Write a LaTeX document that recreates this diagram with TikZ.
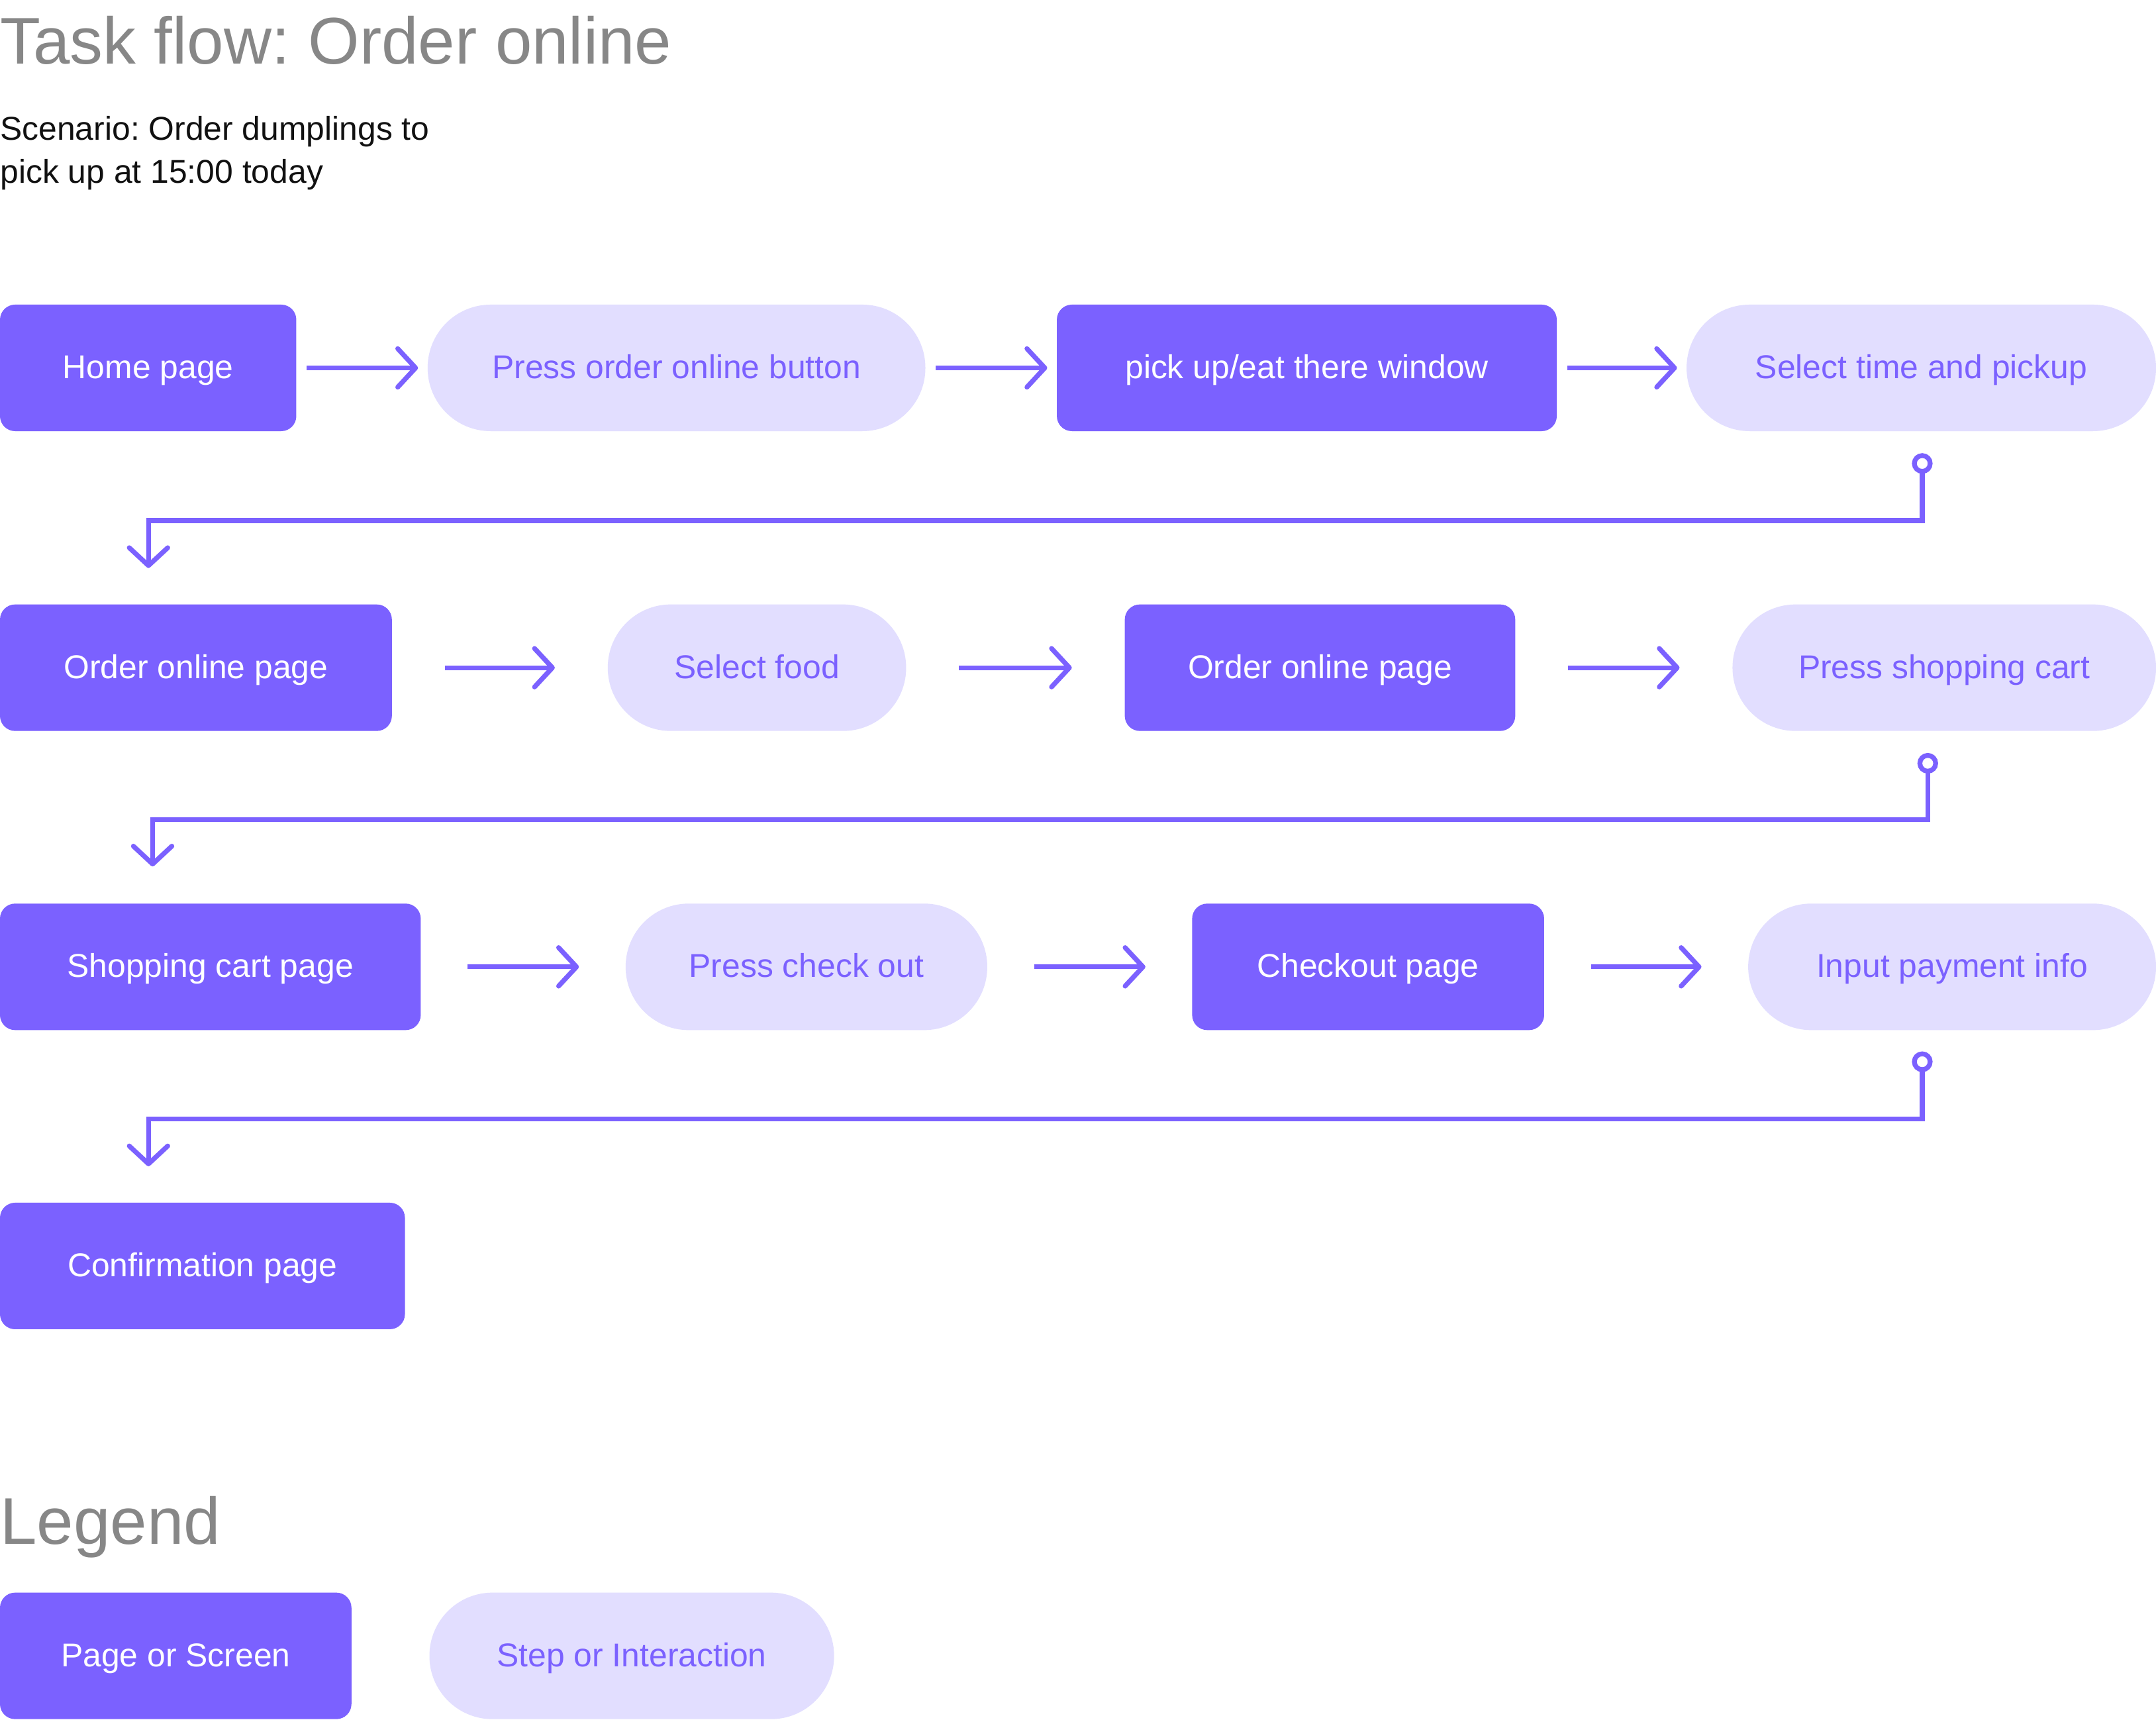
\documentclass[tikz,border=0pt]{standalone}
\usepackage{fontspec}
\setmainfont{Liberation Sans}
\usetikzlibrary{arrows.meta,calc}
\definecolor{pagefill}{HTML}{7B61FF}
\definecolor{stepfill}{HTML}{E2DEFF}
\definecolor{titlegray}{HTML}{878787}
\definecolor{inkblack}{HTML}{111111}
\frenchspacing
\begin{document}
\frenchspacing
\begin{tikzpicture}[x=1pt,y=-1pt,
  boxfont/.style={font=\fontsize{24}{29}\selectfont},
  pagebox/.style={fill=pagefill, text=white, rounded corners=11pt, minimum height=92pt,
    inner sep=0pt, outer sep=0pt, anchor=north west, boxfont, text height=20.4pt, text depth=5pt},
  stepbox/.style={fill=stepfill, text=pagefill, rounded corners=45.9pt, minimum height=92pt,
    inner sep=0pt, outer sep=0pt, anchor=north west, boxfont, text height=20.4pt, text depth=5pt},
  flow/.style={draw=pagefill, line width=3.5pt,
    -{Straight Barb[length=13pt,width=28pt,round]}},
  ring/.style={circle, draw=pagefill, line width=3.5pt, minimum size=11.5pt, inner sep=0pt, outer sep=0pt},
  bigtitle/.style={anchor=base west, inner sep=0pt, text=titlegray, font=\fontsize{48}{58}\selectfont},
  plaintext/.style={anchor=base west, inner sep=0pt, text=inkblack, boxfont},
  row1/.style={shorten <=7.5pt, shorten >=7pt},
  row2/.style={shorten <=38.5pt, shorten >=38.5pt},
  row3/.style={shorten <=34pt, shorten >=34pt}
]
\fill[white] (0,0) rectangle (1568,1250.16);
\useasboundingbox (0,0) rectangle (1568,1250.16);

% titles
\node[bigtitle] (title) at (0,46.5) {Task flow: Order online};
\node[plaintext] (scen1) at (0,102) {Scenario: Order dumplings to};
\node[plaintext] (scen2) at (0,133) {pick up at 15:00 today};

% row 1
\node[pagebox, minimum width=215.5pt] (r1a) at (0,221.5) {Home page};
\node[stepbox, minimum width=362pt] (r1b) at (311,221.5) {Press order online button};
\node[pagebox, minimum width=363.6pt] (r1c) at (768.6,221.5) {pick up/eat there window};
\node[stepbox, minimum width=341.4pt] (r1d) at (1226.6,221.5) {Select time and pickup};

% row 2
\node[pagebox, minimum width=285pt] (r2a) at (0,439.5) {Order online page};
\node[stepbox, minimum width=217pt] (r2b) at (442,439.5) {Select food};
\node[pagebox, minimum width=284pt] (r2c) at (818,439.5) {Order online page};
\node[stepbox, minimum width=308pt] (r2d) at (1260,439.5) {Press shopping cart};

% row 3
\node[pagebox, minimum width=306pt] (r3a) at (0,657) {Shopping cart page};
\node[stepbox, minimum width=263pt] (r3b) at (455,657) {Press check out};
\node[pagebox, minimum width=256pt] (r3c) at (867,657) {Checkout page};
\node[stepbox, minimum width=296.6pt] (r3d) at (1271.4,657) {Input payment info};

% row 4
\node[pagebox, minimum width=294.5pt] (r4a) at (0,874.5) {Confirmation page};

% legend
\node[bigtitle] (legend) at (0,1123) {Legend};
\node[pagebox, minimum width=255.6pt] (lga) at (0,1158) {Page or Screen};
\node[stepbox, minimum width=294.3pt] (lgb) at (312.3,1158) {Step or Interaction};

% horizontal connectors
\draw[flow, row1] (r1a.east) -- (r1b.west);
\draw[flow, row1] (r1b.east) -- (r1c.west);
\draw[flow, row1] (r1c.east) -- (r1d.west);
\draw[flow, row2] (r2a.east) -- (r2b.west);
\draw[flow, row2] (r2b.east) -- (r2c.west);
\draw[flow, row2] (r2c.east) -- (r2d.west);
\draw[flow, row3] (r3a.east) -- (r3b.west);
\draw[flow, row3] (r3b.east) -- (r3c.west);
\draw[flow, row3] (r3c.east) -- (r3d.west);

% wrap-around connectors
\node[ring] (c1s) at (1398,337) {};
\draw[flow, shorten >=26.5pt] (c1s.south) -- ($(c1s.center)+(0,41.5)$) -| ([xshift=108pt]r2a.north west);
\node[ring] (c2s) at (1402,555) {};
\draw[flow, shorten >=27pt] (c2s.south) -- ($(c2s.center)+(0,41)$) -| ([xshift=111pt]r3a.north west);
\node[ring] (c3s) at (1398,772) {};
\draw[flow, shorten >=26.5pt] (c3s.south) -- ($(c3s.center)+(0,41.5)$) -| ([xshift=108pt]r4a.north west);
\end{tikzpicture}
\end{document}
